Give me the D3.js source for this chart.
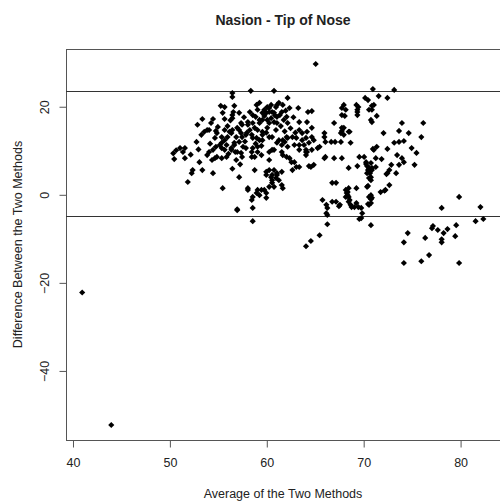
<!DOCTYPE html>
<html>
<head>
<meta charset="utf-8">
<script src="https://cdn.jsdelivr.net/npm/d3@7"></script>
<style>
  html, body { margin: 0; padding: 0; background: #fff; }
  svg { display: block; }
  text { font-family: "Liberation Sans", Arial, sans-serif; fill: #222; }
</style>
</head>
<body>
<div id="chart"></div>
<script>
// Bland–Altman agreement plot: mean of two measurements vs. their difference
const title = "Nasion - Tip of Nose";
const xTitle = "Average of the Two Methods";
const yTitle = "Difference Between the Two Methods";

const xTicks = [40, 50, 60, 70, 80];
const yTicks = [-40, -20, 0, 20];

// limits of agreement
const limits = [23.4, -4.9];

// averages of the two methods
const avg = [
  41.0, 44.0, 65.1,
  55.3, 55.5, 54.5, 53.4, 52.9, 54.3, 53.6, 54.1, 54.9, 54.7, 53.3, 52.8, 55.4, 55.7, 55.2,
  54.1, 54.5, 53.9, 54.9, 54.4, 55.4, 55.9, 51.1, 51.6, 51.4, 50.5, 51.6, 53.1, 52.4, 52.3,
  53.4, 54.5, 51.9, 55.5, 50.4, 50.7,
  55.7, 53.9, 54.8, 55.7, 55.4, 54.8, 55.4, 55.7, 54.7,
  56.5, 56.5, 55.7, 56.7, 56.5, 57.2, 57.0, 56.5, 56.2, 56.0, 56.9, 57.4, 55.9, 56.7, 57.2,
  56.4, 57.0, 57.5, 56.9, 57.2, 57.0,
  58.4, 60.8, 56.6, 56.5, 58.3, 58.6, 59.1, 59.3, 59.8, 60.0, 60.3, 60.5, 60.6, 61.0, 61.3,
  61.7, 61.6, 62.2, 62.4, 63.3, 64.7, 60.1, 60.5, 60.8, 59.3, 58.1, 57.5, 57.2, 56.4, 57.5,
  56.7, 56.4, 56.8, 57.4, 57.9, 58.5, 58.8, 59.1, 59.3, 58.6, 58.3, 58.8, 59.1, 59.6, 60.1,
  60.3, 59.6, 61.0, 62.2, 63.4, 64.2, 63.4, 63.7, 64.2, 64.7, 61.3, 61.7, 62.2, 62.7, 61.6,
  62.2, 62.9, 63.4, 64.1, 64.4, 64.9, 60.6, 60.3, 61.7, 62.1, 62.4, 62.6, 62.9, 63.1, 64.6,
  64.9, 65.3, 65.5, 66.0, 66.1, 66.1, 67.1, 67.0, 67.8, 67.0, 68.0, 68.2, 67.8,
  58.8, 60.0, 60.8, 61.1, 61.6, 60.5, 61.0, 61.3, 60.6, 60.8, 61.6, 60.3, 61.7, 59.3, 59.0,
  58.6, 58.5, 60.0, 58.1, 58.6, 57.0, 58.6, 65.8, 66.2, 66.3, 66.2, 66.8, 67.2, 66.8, 67.2,
  64.3, 60.1, 61.1, 59.6, 60.3, 60.8, 61.1, 62.1, 60.3, 59.6, 59.3, 58.6, 58.1, 57.4,
  57.9, 58.5, 59.0, 59.6, 58.6, 59.1, 58.5, 59.5, 61.1, 62.1, 63.1, 61.9, 61.1, 64.1, 63.9,
  60.8, 61.6, 63.4, 64.2, 60.3, 60.3, 60.6, 61.1, 60.0, 60.6, 60.0, 59.5, 58.1,
  71.0, 70.2, 70.5, 69.3, 69.4, 70.6, 70.9, 69.4, 70.8, 67.8, 67.7, 68.5, 68.0, 63.7, 64.7,
  66.0, 66.7, 67.7, 68.7, 63.4, 64.1, 64.7, 64.1, 66.0, 69.6, 70.1, 68.5, 69.4, 70.3, 70.8,
  71.3, 70.6, 70.4, 70.6, 64.4, 70.4, 68.5, 69.3, 68.3, 68.5, 68.5, 68.7, 69.1, 69.3, 69.8,
  70.6, 70.8, 70.6, 67.5, 66.3, 69.9, 69.8, 70.8,
  73.2, 71.6, 72.5, 71.1, 71.4, 70.9, 74.0, 76.2, 72.1, 73.7, 74.7, 76.0, 73.2, 73.7, 74.2,
  71.4, 71.1, 72.5, 75.0, 75.5, 71.9, 73.5, 74.0, 74.2, 75.3, 72.9, 71.3, 70.9, 72.7, 73.7,
  72.4, 73.4, 70.8, 70.8, 72.7, 72.3, 71.8, 70.8, 70.9, 70.8, 77.2,
  69.5, 67.8, 70.9, 69.4, 68.1, 68.0, 67.8, 68.6, 71.0, 70.3, 70.4, 70.9, 70.5, 72.5, 70.7,
  70.5, 72.2, 68.4, 68.4, 68.6, 67.6, 69.5, 68.8, 70.5, 69.6,
  79.9, 78.1, 82.1, 81.6, 82.4, 74.6, 74.2, 76.4, 77.1, 77.7, 78.3, 78.7, 79.6, 79.5, 78.1,
  78.1, 76.8, 76.0, 74.2, 79.9,
  64.1, 64.6, 65.5, 66.3, 59.1, 59.8, 62.7, 68.2, 68.2,
  56.0, 56.3, 57.7, 58.0, 57.8, 58.9, 59.5, 60.0, 60.6, 61.5, 62.5, 62.8, 61.8, 59.8, 60.9,
  55.0, 54.2, 53.0, 52.2, 56.1, 57.6, 58.9, 61.4, 62.0, 59.0, 61.9, 63.0, 57.3, 56.5
];

// differences between the two methods
const diff = [
  -22.3, -52.4, 29.6,
  20.1, 18.5, 17.1, 17.1, 15.8, 16.2, 14.2, 14.6, 13.9, 12.8, 13.5, 11.9, 13.0, 12.3, 11.2,
  9.6, 10.1, 8.9, 8.5, 7.8, 8.2, 8.5, 10.5, 10.5, 9.6, 8.0, 8.2, 7.3, 5.5, 4.8,
  5.5, 4.8, 2.8, 1.4, 9.3, 10.0,
  17.1, 14.6, 14.4, 14.6, 11.7, 10.8, 10.5, 10.1, 8.2,
  23.0, 22.1, 19.8, 20.1, 18.0, 18.5, 15.1, 14.6, 14.2, 13.0, 13.0, 13.9, 11.2, 11.7, 11.9,
  10.1, 9.6, 8.5, 7.8, 3.9, -3.4,
  23.5, 23.5, 18.7, 17.3, 18.7, 18.0, 19.2, 20.8, 19.2, 18.5, 19.6, 20.3, 18.7, 19.8, 20.8,
  20.3, 18.7, 21.9, 19.6, 19.6, 18.9, 16.9, 17.3, 16.4, 16.9, 16.4, 15.8, 14.6, 13.9, 13.0,
  11.2, 10.5, 9.6, 9.4, 10.5, 9.6, 8.5, 10.8, 12.3, 12.8, 14.6, 15.1, 14.6, 14.2, 15.1,
  13.0, 12.3, 14.6, 16.2, 16.4, 16.4, 14.6, 13.9, 14.2, 15.1, 12.3, 12.3, 12.8, 13.0, 11.2,
  10.8, 11.2, 10.1, 10.1, 11.7, 12.3, 10.1, 9.6, 8.9, 8.5, 8.2, 7.3, 7.3, 6.2, 6.2,
  6.7, 10.5, 10.8, 13.9, 11.9, 8.5, 11.9, 8.2, 8.2, 16.2, 20.3, 19.2, 18.0,
  5.5, 5.1, 5.5, 4.8, 5.1, 3.9, 3.7, 3.2, 2.6, 1.7, 2.1, 1.7, 1.4, -0.2, 0.3,
  -0.6, -1.3, -0.8, 1.4, -3.1, -3.6, -6.1, -1.3, -2.4, -3.1, -4.3, 2.6, 2.6, -1.7, -1.7,
  18.7, 19.8, 20.3, 18.5, 18.7, 18.5, 17.6, 17.6, 16.2, 16.9, 16.2, 16.2, 15.8, 16.2,
  13.5, 13.5, 12.8, 13.5, 10.5, 9.6, 8.5, 8.9, 16.2, 13.0, 12.8, 11.9, 11.7, 12.8, 11.2,
  10.1, 9.6, 6.2, 9.6, 7.8, 5.5, 4.4, 4.4, 4.4, 3.2, 0.3, 1.0, 1.0,
  23.9, 21.9, 21.4, 20.3, 19.2, 19.2, 19.2, 18.0, 16.9, 15.1, 13.9, 14.2, 13.5, 12.3, 13.0,
  13.0, 11.9, 11.9, 11.7, 11.2, 9.6, 10.1, 8.9, 8.2, 8.5, 8.5, 6.0, 6.4, 7.3, 7.1,
  8.2, 6.0, 4.8, 3.7, 6.4, 1.7, 1.4, 1.4, 0.3, -0.6, -1.7, -2.4, -2.9, -2.0, -3.1,
  -0.6, -1.1, -2.4, -2.7, -6.8, -4.3, -5.4, -7.0,
  23.7, 22.3, 21.9, 20.3, 17.8, 16.4, 16.2, 16.2, 13.9, 14.4, 13.9, 13.0, 11.7, 11.9, 12.1,
  10.8, 10.1, 10.3, 10.5, 9.4, 8.0, 8.9, 8.2, 7.3, 6.7, 6.7, 6.2, 5.5, 5.5, 6.7,
  4.6, 4.8, 3.9, 3.2, 2.1, 1.0, 0.5, -0.2, -0.8, -2.0, -7.2,
  19.8, 19.6, 20.1, 18.7, 17.8, 15.1, 14.4, 14.2, 10.3, 6.9, 6.4, 6.0, 5.5, 4.8, 4.8,
  1.9, 0.8, 0.5, -0.2, -1.3, -2.4, -2.9, -2.9, -2.2, -5.6,
  -0.6, -3.1, -2.9, -6.1, -5.6, -8.8, -10.9, -9.9, -7.7, -8.1, -8.8, -7.9, -7.0, -9.5, -10.2,
  -10.9, -13.8, -15.2, -15.6, -15.6,
  -11.8, -10.6, -9.3, -4.7, 1.0, 1.0, 5.5, 1.0, -0.6,
  15.5, 16.8, 17.5, 14.0, 12.0, 11.5, 11.0, 14.0, 13.0, 15.5, 15.0, 17.5, 16.9, 17.8, 17.9,
  15.3, 11.5, 10.2, 9.0, 9.2, 10.8, 17.6, 18.0, 19.0, 20.3, 14.3, 14.0, 6.8, 5.8
];

const W = 500, H = 502;
const plot = { left: 66, top: 49, right: 501, bottom: 440 };

const svg = d3.select("#chart").append("svg")
  .attr("width", W).attr("height", H);

const x = d3.scaleLinear().domain([39.33, 84.12]).range([plot.left, 500]);
const y = d3.scaleLinear().domain([-55.8, 33.0]).range([plot.bottom, plot.top]);

// plot frame
svg.append("rect")
  .attr("x", plot.left + 0.5).attr("y", plot.top + 0.5)
  .attr("width", plot.right - plot.left).attr("height", plot.bottom - plot.top)
  .attr("fill", "none").attr("stroke", "#555").attr("stroke-width", 1);

// x axis
const xAxis = svg.append("g")
  .attr("transform", `translate(0.5,${plot.bottom + 0.5})`)
  .call(d3.axisBottom(x).tickValues(xTicks).tickSize(7).tickPadding(11).tickSizeOuter(0));
xAxis.select(".domain").attr("stroke", "#555").attr("d", `M${x(40)},0H${x(80)}`);
xAxis.selectAll(".tick line").attr("stroke", "#555");
xAxis.selectAll(".tick text").attr("font-size", 12.5).attr("fill", "#222")
  .style("font-family", "'Liberation Sans', Arial, sans-serif");

// y axis, labels rotated as in base graphics
const yAxis = svg.append("g")
  .attr("transform", `translate(${plot.left + 0.5},0.5)`)
  .call(d3.axisLeft(y).tickValues(yTicks).tickSize(7).tickSizeOuter(0));
yAxis.select(".domain").attr("stroke", "#555").attr("d", `M0,${y(-40)}V${y(20)}`);
yAxis.selectAll(".tick line").attr("stroke", "#555");
yAxis.selectAll(".tick text")
  .attr("font-size", 12.5).attr("fill", "#222")
  .attr("x", null).attr("dy", null)
  .attr("text-anchor", "middle")
  .attr("transform", "translate(-18,0) rotate(-90)")
  .style("font-family", "'Liberation Sans', Arial, sans-serif");

// limits of agreement
svg.append("g").selectAll("line").data(limits).join("line")
  .attr("x1", plot.left).attr("x2", plot.right)
  .attr("y1", d => Math.round(y(d)) + 0.5).attr("y2", d => Math.round(y(d)) + 0.5)
  .attr("stroke", "#333").attr("stroke-width", 1);

// points (filled diamonds)
const pts = avg.map((a, i) => [a, diff[i]]);
const diamond = d3.symbol().type(d3.symbolSquare).size(19);
svg.append("g").selectAll("path").data(pts).join("path")
  .attr("d", diamond)
  .attr("transform", d => `translate(${x(d[0])},${y(d[1])}) rotate(45)`)
  .attr("fill", "#000");

// titles
svg.append("text")
  .attr("x", (plot.left + 500) / 2).attr("y", 25)
  .attr("text-anchor", "middle")
  .attr("font-size", 14).attr("font-weight", "bold")
  .text(title);

svg.append("text")
  .attr("x", (plot.left + 500) / 2).attr("y", 498)
  .attr("text-anchor", "middle")
  .attr("font-size", 12.5)
  .text(xTitle);

svg.append("text")
  .attr("transform", `translate(22,${(plot.top + plot.bottom) / 2}) rotate(-90)`)
  .attr("text-anchor", "middle")
  .attr("font-size", 12.5)
  .text(yTitle);
</script>
</body>
</html>
